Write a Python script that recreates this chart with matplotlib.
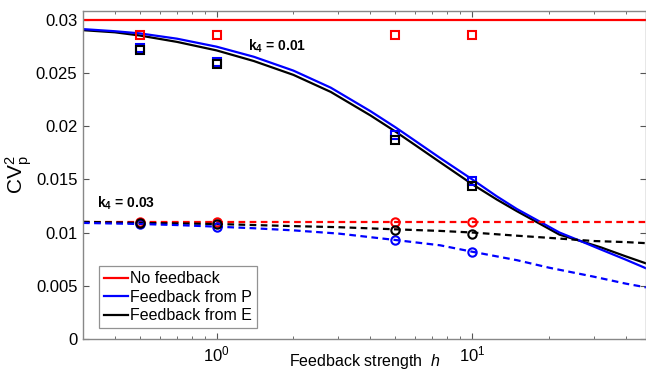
"""CV_p^2 versus feedback strength h for two values of k4."""

import numpy as np
import matplotlib
matplotlib.use("Agg")
import matplotlib.pyplot as plt
from matplotlib.ticker import LogLocator, NullFormatter

plt.rcParams["font.family"] = ["Liberation Sans", "DejaVu Sans"]
plt.rcParams["mathtext.fontset"] = "custom"
plt.rcParams["mathtext.rm"] = "Liberation Sans"
plt.rcParams["mathtext.it"] = "Liberation Sans:italic"
plt.rcParams["mathtext.bf"] = "Liberation Sans:bold"

# simulated points (markers)
h_sim = [0.5, 1, 5, 10]
sq_none = [0.0285, 0.0285, 0.0285, 0.0285]
sq_p = [0.0273, 0.0260, 0.0192, 0.0148]
sq_e = [0.0271, 0.0258, 0.0187, 0.0144]
ci_none = [0.0110, 0.0110, 0.0110, 0.0110]
ci_p = [0.0108, 0.01055, 0.0093, 0.0082]
ci_e = [0.0109, 0.0108, 0.0102, 0.0099]

# analytic curves, k4 = 0.01 (solid)
h_solid = [0.3, 0.4, 0.5, 0.7, 1, 1.4, 2, 2.8, 4, 5, 6, 7.5, 10, 12.5, 15,
           18.5, 22, 26.6, 32, 40, 48]
none_01 = [0.030] * len(h_solid)
p_01 = [0.0291, 0.0289, 0.0287, 0.0282, 0.02745, 0.0265, 0.0252, 0.0236,
        0.0214, 0.0199, 0.0186, 0.0170, 0.0150, 0.0134, 0.0122, 0.0110,
        0.0100, 0.0092, 0.0084, 0.00745, 0.00664]
e_01 = [0.0290, 0.0288, 0.0285, 0.0279, 0.0271, 0.0261, 0.0248, 0.0232,
        0.0210, 0.0195, 0.0182, 0.0166, 0.01455, 0.0131, 0.0120, 0.0108,
        0.0098, 0.0092, 0.0086, 0.00776, 0.0071]

# analytic curves, k4 = 0.03 (dashed)
h_dash = [0.3, 0.5, 0.7, 1, 1.4, 2, 3, 5, 7.5, 10, 15, 20, 30, 40, 48]
none_03 = [0.0110] * len(h_dash)
p_03 = [0.0109, 0.0108, 0.0107, 0.01055, 0.0104, 0.0102, 0.0099, 0.0093,
        0.0088, 0.0082, 0.0074, 0.0067, 0.00585, 0.0052, 0.00485]
e_03 = [0.0110, 0.0109, 0.01085, 0.0108, 0.0107, 0.0106, 0.0105, 0.0103,
        0.01015, 0.0100, 0.0097, 0.0095, 0.0092, 0.0091, 0.0090]

RED, BLUE, BLACK = "#ff0000", "#0000ff", "#000000"

fig = plt.figure(figsize=(6.46, 3.72), dpi=100)
ax = fig.add_axes([83 / 646, 33 / 372, 563 / 646, 328 / 372])

ax.plot(h_solid, none_01, color=RED, lw=1.6, label="No feedback")
ax.plot(h_solid, e_01, color=BLACK, lw=1.6)
ax.plot(h_solid, p_01, color=BLUE, lw=1.6, label="Feedback from P")
ax.plot([], [], color=BLACK, lw=1.6, label="Feedback from E")

ax.plot(h_dash, none_03, color=RED, lw=1.6, ls=(0, (3, 2)))
ax.plot(h_dash, e_03, color=BLACK, lw=1.6, ls=(0, (3, 2)))
ax.plot(h_dash, p_03, color=BLUE, lw=1.6, ls=(0, (3, 2)))

mk = dict(ls="none", ms=6, mew=1.5, mfc="none")
ax.plot(h_sim, sq_none, marker="s", mec=RED, **mk)
ax.plot(h_sim, sq_p, marker="s", mec=BLUE, **mk)
ax.plot(h_sim, sq_e, marker="s", mec=BLACK, **mk)
ax.plot(h_sim, ci_none, marker="o", mec=RED, **mk)
ax.plot(h_sim, ci_p, marker="o", mec=BLUE, **mk)
ax.plot(h_sim, ci_e, marker="o", mec=BLACK, **mk)

ax.text(1.33, 0.0275, r"$\mathbf{k_4}$ = 0.01",
        fontsize=10, fontweight="bold", va="center")
ax.text(0.34, 0.0127, r"$\mathbf{k_4}$ = 0.03",
        fontsize=10, fontweight="bold", va="center")

ax.set_xscale("log")
ax.set_xlim(0.3, 48)
ax.set_ylim(0, 0.0308)
ax.set_yticks([0, 0.005, 0.01, 0.015, 0.02, 0.025, 0.03])
ax.set_yticklabels(["0", "0.005", "0.01", "0.015", "0.02", "0.025", "0.03"])
ax.xaxis.set_major_locator(LogLocator(base=10, numticks=10))
ax.xaxis.set_minor_locator(LogLocator(base=10, subs=np.arange(2, 10), numticks=10))
ax.xaxis.set_minor_formatter(NullFormatter())

ax.tick_params(which="both", direction="in", top=True, right=True,
               labelsize=12, color="#555555")
ax.tick_params(which="major", length=4, pad=4)
ax.tick_params(which="minor", length=2.5)
for s in ax.spines.values():
    s.set_color("#888888")
    s.set_linewidth(1.0)

ax.set_xlabel(r"Feedback strength  $h$", fontsize=11.5, labelpad=-9)
ax.set_ylabel(r"CV$_\mathrm{p}^\mathrm{2}$", fontsize=15, labelpad=1)

leg = ax.legend(loc="lower left", bbox_to_anchor=(0.0285, 0.0335),
                borderaxespad=0, fontsize=11.5, fancybox=False,
                handlelength=1.5, handletextpad=0.15, labelspacing=0.22,
                borderpad=0.3)
leg.get_frame().set_edgecolor("#777777")
leg.get_frame().set_linewidth(0.9)

fig.savefig("out.png", dpi=100)
